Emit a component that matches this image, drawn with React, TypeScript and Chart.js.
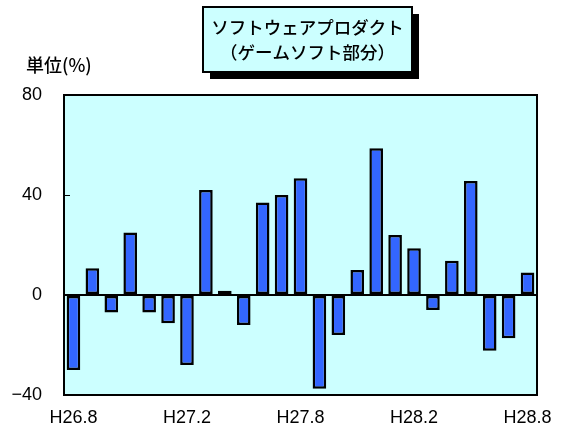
import React, { useEffect, useRef } from 'react';
import { Chart, registerables } from 'chart.js';
Chart.register(...registerables);

const categories = ['H26.8', 'H26.9', 'H26.10', 'H26.11', 'H26.12', 'H27.1', 'H27.2', 'H27.3', 'H27.4', 'H27.5', 'H27.6', 'H27.7', 'H27.8', 'H27.9', 'H27.10', 'H27.11', 'H27.12', 'H28.1', 'H28.2', 'H28.3', 'H28.4', 'H28.5', 'H28.6', 'H28.7', 'H28.8'];
const shownLabels = ['H26.8', 'H27.2', 'H27.8', 'H28.2', 'H28.8'];
const values = [-30, 10.7, -7, 25, -7, -11.3, -28, 42, 1.7, -12, 37, 40, 46.7, -37.5, -16, 10, 58.7, 24, 18.7, -6, 13.7, 45.6, -22.3, -17.3, 9];
const yMin = -40;
const yMax = 80;
const yStep = 40;
const titleLines = ['ソフトウェアプロダクト', '（ゲームソフト部分）'];
const unitLabel = '単位(%)';

const JP = '"Noto Sans CJK JP", sans-serif';
const NUM = '"Liberation Sans", Arial, sans-serif';

export default function App() {
  const ref = useRef<HTMLCanvasElement | null>(null);
  useEffect(() => {
    document.body.style.margin = '0';
    const canvas = ref.current;
    if (!canvas) return;
    const decor = {
      id: 'decor',
      beforeDraw(chart: any) {
        const { ctx, chartArea: a } = chart;
        ctx.save();
        ctx.fillStyle = '#ffffff';
        ctx.fillRect(0, 0, chart.width, chart.height);
        ctx.fillStyle = '#CCFFFF';
        ctx.fillRect(a.left, a.top, a.right - a.left, a.bottom - a.top);
        ctx.restore();
      },
      afterDraw(chart: any) {
        const { ctx, chartArea: a } = chart;
        const ys = chart.scales.y;
        ctx.save();
        ctx.strokeStyle = '#000';
        ctx.lineWidth = 2;
        ctx.strokeRect(a.left, a.top, a.right - a.left, a.bottom - a.top);
        ctx.lineWidth = 1;
        for (let v = yMin; v <= yMax; v += yStep) {
          const y = Math.round(ys.getPixelForValue(v)) + 0.5;
          ctx.beginPath();
          ctx.moveTo(a.left, y);
          ctx.lineTo(a.left + 6, y);
          ctx.stroke();
        }
        // title box
        const bx = 203, by = 7, bw = 209, bh = 65;
        ctx.fillStyle = '#000';
        ctx.fillRect(bx + 7, by + 7, bw, bh);
        ctx.fillStyle = '#CCFFFF';
        ctx.fillRect(bx, by, bw, bh);
        ctx.lineWidth = 2;
        ctx.strokeRect(bx, by, bw, bh);
        ctx.fillStyle = '#000';
        ctx.font = `500 17.5px ${JP}`;
        ctx.textAlign = 'center';
        ctx.textBaseline = 'middle';
        ctx.fillText(titleLines[0], bx + bw / 2, 27);
        ctx.fillText(titleLines[1], bx + bw / 2, 52);
        ctx.textAlign = 'left';
        ctx.font = `500 18px ${JP}`;
        ctx.fillText(unitLabel, 26, 65);
        ctx.restore();
      },
    };
    const chart = new Chart(canvas, {
      type: 'bar',
      data: {
        labels: categories,
        datasets: [
          {
            data: values,
            backgroundColor: '#3366FF',
            borderColor: '#000000',
            borderWidth: 2.5,
            borderSkipped: false,
            barPercentage: 0.72,
            categoryPercentage: 1,
          },
        ],
      },
      options: {
        responsive: false,
        animation: false,
        layout: { padding: { top: 95, right: 22, left: 0, bottom: 0 } },
        plugins: { legend: { display: false }, tooltip: { enabled: false }, title: { display: false } },
        scales: {
          x: {
            grid: { display: false, drawTicks: false },
            border: { display: false },
            ticks: {
              autoSkip: false,
              maxRotation: 0,
              minRotation: 0,
              padding: 12,
              color: '#000',
              font: { family: NUM, size: 18 },
              callback: (_v: any, i: number) => (shownLabels.includes(categories[i]) ? categories[i] : ''),
            },
            afterFit: (s: any) => {
              s.height = 38;
            },
          },
          y: {
            min: yMin,
            max: yMax,
            grid: {
              drawTicks: false,
              color: (c: any) => (c.tick && c.tick.value === 0 ? '#000' : 'rgba(0,0,0,0)'),
              lineWidth: 2,
            },
            border: { display: false },
            ticks: {
              stepSize: yStep,
              padding: 22,
              color: '#000',
              font: { family: NUM, size: 18 },
              callback: (v: any) => (Number(v) < 0 ? '\u2212' + Math.abs(Number(v)) : String(v)),
            },
            afterFit: (s: any) => {
              s.width = 64;
            },
          },
        },
      },
      plugins: [decor],
    });
    return () => chart.destroy();
  }, []);
  return <canvas ref={ref} width={564} height={433} style={{ display: 'block' }} />;
}
